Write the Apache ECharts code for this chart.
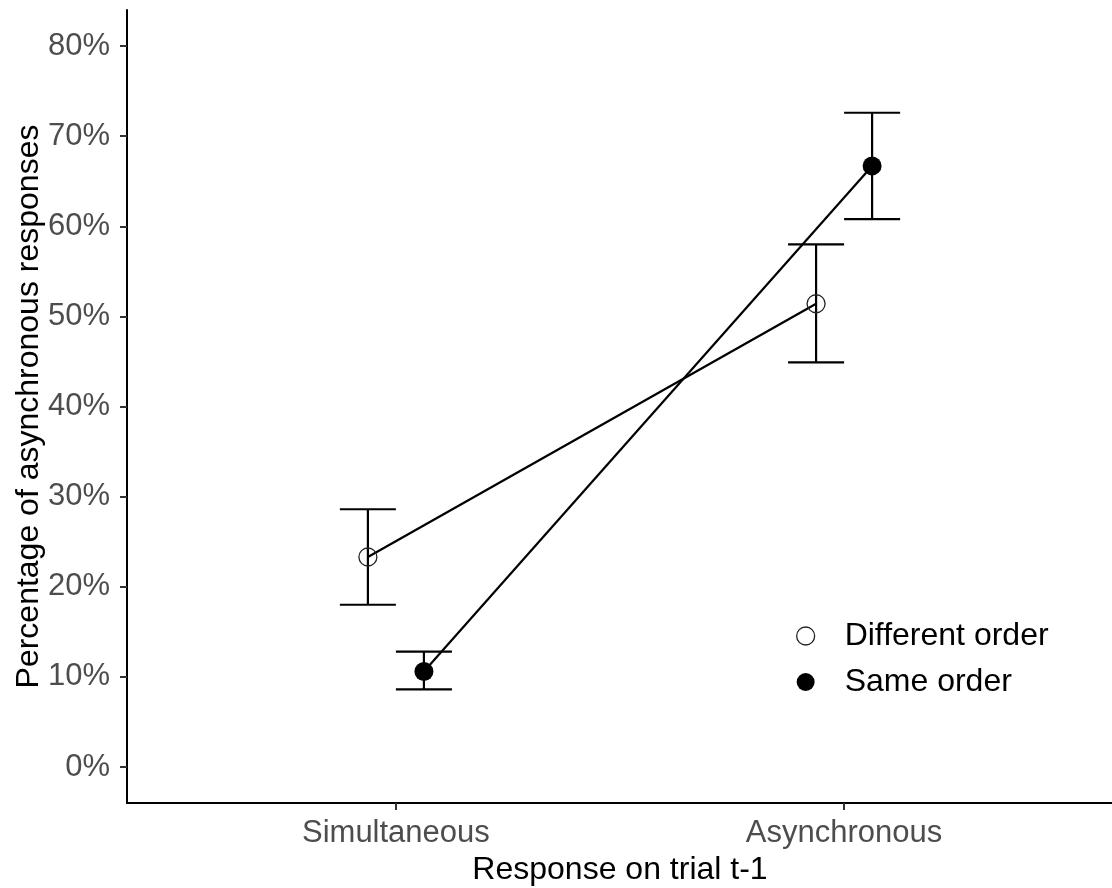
<!DOCTYPE html>
<html><head><meta charset="utf-8">
<script src="https://cdn.jsdelivr.net/npm/echarts@6/dist/echarts.min.js"></script>
<style>html,body{margin:0;padding:0;background:#fff}#c{width:1112px;height:888px}</style>
</head><body><div id="c"></div>
<script>
const categories = ['Simultaneous', 'Asynchronous'];
const groups = ['Different order', 'Same order'];
const diffMean = [23.3, 51.4];
const diffLow = [18.0, 44.9];
const diffHigh = [28.6, 58.0];
const sameMean = [10.6, 66.7];
const sameLow = [8.6, 60.8];
const sameHigh = [12.8, 72.6];
const yTicks = [0, 10, 20, 30, 40, 50, 60, 70, 80];
const xTicks = [1, 2];

const FONT = "'Liberation Sans', Arial, sans-serif";
const dodge = 0.0625;
const capHalf = 0.0625;

function errRender(params, api) {
  const x = api.value(0), lo = api.value(1), hi = api.value(2);
  const pLo = api.coord([x, lo]), pHi = api.coord([x, hi]);
  const half = api.size([capHalf, 0])[0];
  const style = { stroke: '#000', lineWidth: 2.2, fill: null };
  return { type: 'group', children: [
    { type: 'line', shape: { x1: pLo[0], y1: pLo[1], x2: pHi[0], y2: pHi[1] }, style: style },
    { type: 'line', shape: { x1: pLo[0] - half, y1: pLo[1], x2: pLo[0] + half, y2: pLo[1] }, style: style },
    { type: 'line', shape: { x1: pHi[0] - half, y1: pHi[1], x2: pHi[0] + half, y2: pHi[1] }, style: style }
  ]};
}

const diffX = categories.map((c, i) => i + 1 - dodge);
const sameX = categories.map((c, i) => i + 1 + dodge);

const hollow = { color: 'rgba(0,0,0,0)', borderColor: '#222', borderWidth: 1.3 };
const solid = { color: '#000', borderColor: '#000', borderWidth: 0 };

const chart = echarts.init(document.getElementById('c'), null, { renderer: 'canvas' });
chart.setOption({
  animation: false,
  backgroundColor: '#fff',
  grid: { left: 127, right: -1, top: 10, bottom: 85, containLabel: false, outerBoundsMode: 'none' },
  xAxis: {
    type: 'value', min: 0.4, max: 2.6,
    name: 'Response on trial t-1', nameLocation: 'middle', nameGap: 50,
    nameTextStyle: { fontFamily: FONT, fontSize: 32, color: '#000' },
    axisLine: { onZero: false, lineStyle: { color: '#000', width: 2 } },
    axisTick: { customValues: xTicks, length: 7, lineStyle: { color: '#333', width: 2 } },
    axisLabel: { customValues: xTicks, margin: 15, fontFamily: FONT, fontSize: 31, color: '#4D4D4D',
      formatter: v => categories[Math.round(v) - 1] || '' },
    splitLine: { show: false }
  },
  yAxis: {
    type: 'value', min: -4, max: 84,
    name: 'Percentage of asynchronous responses', nameLocation: 'middle', nameGap: 82, nameRotate: 90,
    nameMoveOverlap: false,
    nameTextStyle: { fontFamily: FONT, fontSize: 32, color: '#000' },
    axisLine: { onZero: false, lineStyle: { color: '#000', width: 2 } },
    axisTick: { customValues: yTicks, length: 7, lineStyle: { color: '#333', width: 2 } },
    axisLabel: { customValues: yTicks, margin: 17, fontFamily: FONT, fontSize: 31, color: '#4D4D4D',
      formatter: v => v + '%' },
    splitLine: { show: false }
  },
  legend: {
    orient: 'vertical', left: 791, top: 615,
    itemWidth: 18, itemHeight: 18, itemGap: 14,
    textStyle: { fontFamily: FONT, fontSize: 32, color: '#000', lineHeight: 32, padding: [0, 0, 0, 25] },
    data: [
      { name: groups[0], icon: 'circle', itemStyle: hollow },
      { name: groups[1], icon: 'circle', itemStyle: solid }
    ]
  },
  series: [
    { type: 'custom', name: 'err0', renderItem: errRender, encode: { x: 0, y: [1, 2] },
      data: categories.map((c, i) => [diffX[i], diffLow[i], diffHigh[i]]), z: 1 },
    { type: 'custom', name: 'err1', renderItem: errRender, encode: { x: 0, y: [1, 2] },
      data: categories.map((c, i) => [sameX[i], sameLow[i], sameHigh[i]]), z: 1 },
    { type: 'line', name: groups[0], data: categories.map((c, i) => [diffX[i], diffMean[i]]),
      symbol: 'circle', symbolSize: 18, showSymbol: true,
      lineStyle: { color: '#000', width: 2.2 }, itemStyle: hollow, z: 3 },
    { type: 'line', name: groups[1], data: categories.map((c, i) => [sameX[i], sameMean[i]]),
      symbol: 'circle', symbolSize: 19, showSymbol: true,
      lineStyle: { color: '#000', width: 2.2 }, itemStyle: solid, z: 3 }
  ]
});
</script>
</body></html>
